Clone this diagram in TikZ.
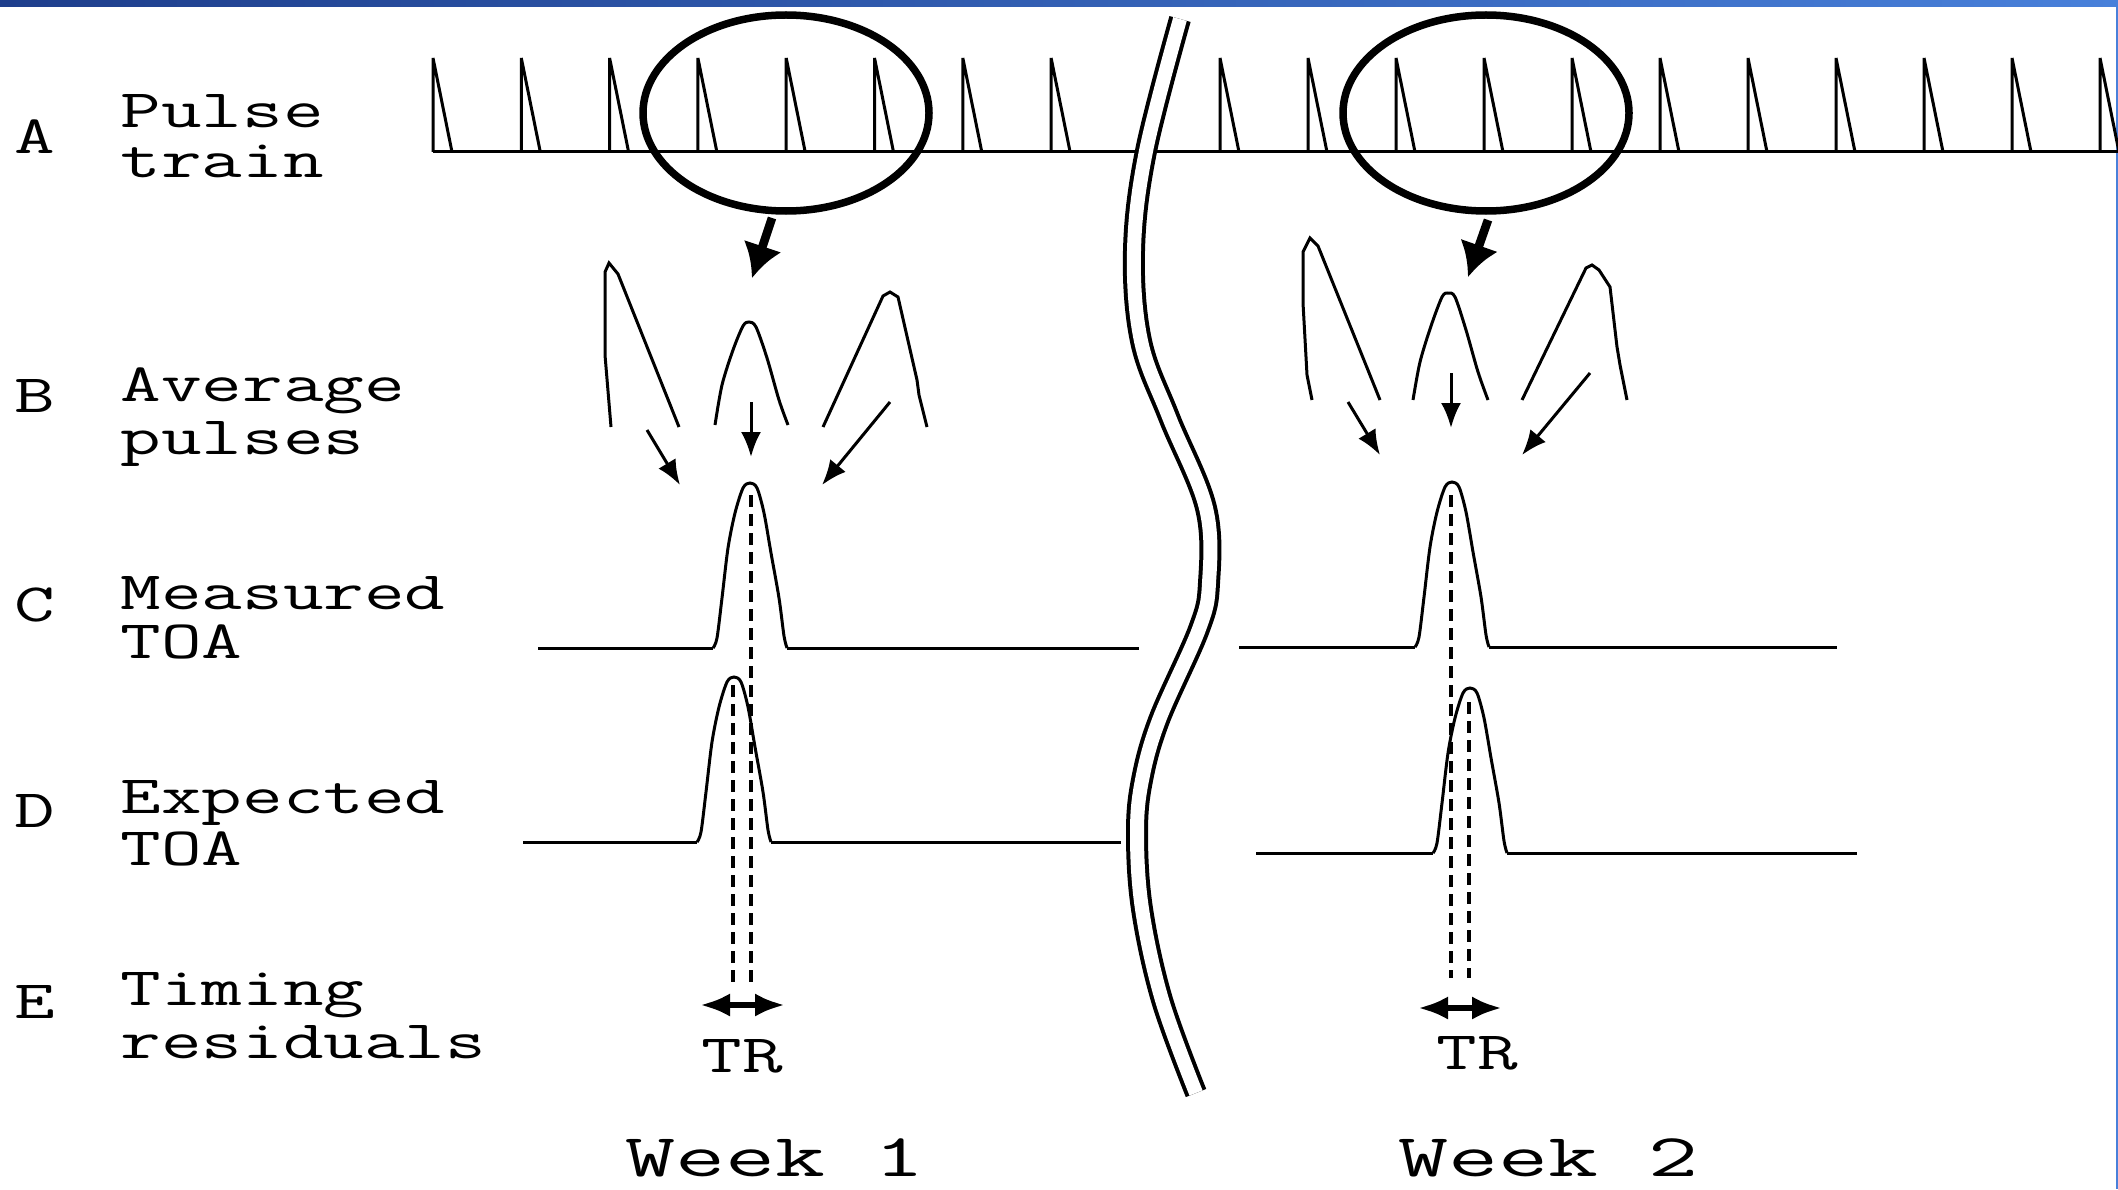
\documentclass[tikz,border=0pt]{standalone}
\usepackage{fontspec}
\usepackage{graphicx}
\usetikzlibrary{arrows.meta}
\definecolor{barL}{RGB}{30,62,140}
\definecolor{barR}{RGB}{72,128,218}
\newcommand{\labfnt}{\ttfamily\fontsize{16.2}{15}\selectfont}
\newcommand{\wkfnt}{\ttfamily\fontsize{18.2}{18}\selectfont}
\newcommand{\sx}[1]{\scalebox{1.46}[1]{#1}}
\newcommand{\swk}[1]{\scalebox{1.6}[1]{#1}}
\begin{document}
\begin{tikzpicture}[x=0.3pt,y=-0.3pt,
  sig/.style={line width=0.9pt, line join=miter},
  ring/.style={line width=2.25pt},
  lab/.style={anchor=base west, inner sep=0pt, font=\labfnt},
  tr/.style={anchor=base, inner sep=0pt, font=\labfnt},
  wk/.style={anchor=base, inner sep=0pt, font=\wkfnt},
  thinarrow/.style={line width=0.9pt, -{Latex[length=7.5pt,width=6pt]}},
  fatarrow/.style={line width=2.6pt, -{Latex[length=10pt,width=12pt]}},
  resid/.style={line width=2pt, {Latex[length=9pt,width=7pt]}-{Latex[length=9pt,width=7pt]}},
  dashline/.style={line width=1.2pt, dash pattern=on 3.6pt off 2.1pt},
  breakline/.style={line width=1.2pt, double=white, double distance=4.2pt},
  gpulse/.pic={\draw[sig] plot[smooth, tension=0.5] coordinates {(-37,0) (-33,-10) (-28,-50) (-22,-100) (-15,-135) (-7,-160) (0,-165) (7,-160) (14,-135) (21,-95) (29,-50) (34,-12) (37,0)};}
]
\useasboundingbox (0,0) rectangle (2118,1189);
\fill[white] (0,0) rectangle (2118,1189);
% top bar and right edge
\shade[left color=barL, right color=barR] (0,0) rectangle (2118,7);
\draw[barR, line width=0.6pt] (2117,0) -- (2117,1189);

% ---------- labels ----------
\node[lab] (lA) at (14,153) {\sx{A}};
\node[lab] (tA1) at (120,127) {\sx{Pulse}};
\node[lab] (tA2) at (120,177) {\sx{train}};
\node[lab] (lB) at (14,412) {\sx{B}};
\node[lab] (tB1) at (120,401) {\sx{Average}};
\node[lab] (tB2) at (120,454) {\sx{pulses}};
\node[lab] (lC) at (14,621) {\sx{C}};
\node[lab] (tC1) at (120,609) {\sx{Measured}};
\node[lab] (tC2) at (120,658) {\sx{TOA}};
\node[lab] (lD) at (14,827) {\sx{D}};
\node[lab] (tD1) at (120,813) {\sx{Expected}};
\node[lab] (tD2) at (120,865) {\sx{TOA}};
\node[lab] (lE) at (14,1018) {\sx{E}};
\node[lab] (tE1) at (120,1005) {\sx{Timing}};
\node[lab] (tE2) at (120,1058) {\sx{residuals}};

% ---------- A: pulse train ----------
\draw[sig] (433,152) -- (2118,152);
\foreach \k in {0,...,7} \draw[sig] ({433+88.3*\k},152) -- ++(0,-94) -- ++(19,94);
\foreach \k in {0,...,10} \draw[sig] ({1220+88*\k},152) -- ++(0,-94) -- ++(19,94);
\draw[ring] (786,113) ellipse [x radius=143, y radius=98];
\draw[ring] (1486,113) ellipse [x radius=143, y radius=98];
\coordinate (e1a) at (772,218); \coordinate (e1b) at (752,278);
\coordinate (e2a) at (1488,220); \coordinate (e2b) at (1468,277);
\draw[fatarrow] (e1a) -- (e1b);
\draw[fatarrow] (e2a) -- (e2b);

% ---------- B: average pulses ----------
\draw[sig] (611,427) -- (605,355) -- (605,272) -- (609,263) -- (618,274) -- (679,427);
\draw[sig] plot[smooth, tension=0.5] coordinates {(715,425) (722,385) (733,350) (743,326) (749,322) (756,327) (767,358) (779,400) (788,425)};
\draw[sig] (823,427) -- (883,296) -- (890,292) -- (898,297) -- (917,380) -- (919,395) -- (927,427);
\draw[sig] (1312,400) -- (1307,375) -- (1303,303) -- (1303,252) -- (1310,238) -- (1318,246) -- (1380,400);
\draw[sig] plot[smooth, tension=0.5] coordinates {(1413,400) (1420,362) (1431,326) (1442,297) (1448,293) (1455,297) (1466,330) (1478,372) (1488,400)};
\draw[sig] (1522,400) -- (1586,268) -- (1592,265) -- (1599,270) -- (1610,287) -- (1617,347) -- (1620,365) -- (1627,400);
\coordinate (b1la) at (647,430); \coordinate (b1lb) at (680,485);
\coordinate (b1ma) at (751,402); \coordinate (b1mb) at (751,457);
\coordinate (b1ra) at (890,402); \coordinate (b1rb) at (822,485);
\coordinate (b2la) at (1348,402); \coordinate (b2lb) at (1380,455);
\coordinate (b2ma) at (1451,373); \coordinate (b2mb) at (1451,428);
\coordinate (b2ra) at (1590,373); \coordinate (b2rb) at (1522,455);
\draw[thinarrow] (b1la) -- (b1lb);
\draw[thinarrow] (b1ma) -- (b1mb);
\draw[thinarrow] (b1ra) -- (b1rb);
\draw[thinarrow] (b2la) -- (b2lb);
\draw[thinarrow] (b2ma) -- (b2mb);
\draw[thinarrow] (b2ra) -- (b2rb);

% ---------- C: measured TOA ----------
\draw[sig] (538,648) -- (713,648);
\draw[sig] (787,648) -- (1139,648);
\pic at (750,648) {gpulse};
\draw[sig] (1239,647) -- (1415,647);
\draw[sig] (1489,647) -- (1837,647);
\pic at (1452,647) {gpulse};

% ---------- D: expected TOA ----------
\draw[sig] (523,842) -- (697,842);
\draw[sig] (771,842) -- (1121,842);
\pic at (734,842) {gpulse};
\draw[sig] (1256,853) -- (1433,853);
\draw[sig] (1507,853) -- (1857,853);
\begin{scope}[shift={(1470,853)}, yscale=0.976]
\pic at (0,0) {gpulse};
\end{scope}

% ---------- dashed lines and residuals ----------
\coordinate (c1) at (751,495); \coordinate (c1e) at (751,985);
\coordinate (d1) at (733,685); \coordinate (d1e) at (733,985);
\coordinate (c2) at (1451,495); \coordinate (c2e) at (1451,978);
\coordinate (d2) at (1469,702); \coordinate (d2e) at (1469,978);
\draw[dashline] (c1) -- (c1e);
\draw[dashline] (d1) -- (d1e);
\draw[dashline] (c2) -- (c2e);
\draw[dashline] (d2) -- (d2e);
\coordinate (r1a) at (700,1005); \coordinate (r1b) at (785,1005);
\coordinate (r2a) at (1418,1008); \coordinate (r2b) at (1502,1008);
\draw[resid] (r1a) -- (r1b);
\draw[resid] (r2a) -- (r2b);
\node[tr] (tr1) at (742,1072) {\sx{TR}};
\node[tr] (tr2) at (1477,1069) {\sx{TR}};

% ---------- break ----------
\draw[breakline] plot[smooth, tension=0.6] coordinates {(1180,19) (1146,151) (1134,250) (1141,341) (1169,417) (1206,508) (1209,583) (1199,629) (1159,720) (1142,780) (1137,833) (1142,909) (1162,1000) (1196,1093)};

% ---------- weeks ----------
\node[wk] (w1) at (775,1176) {\swk{Week 1}};
\node[wk] (w2) at (1548,1176) {\swk{Week 2}};
\end{tikzpicture}
\end{document}
